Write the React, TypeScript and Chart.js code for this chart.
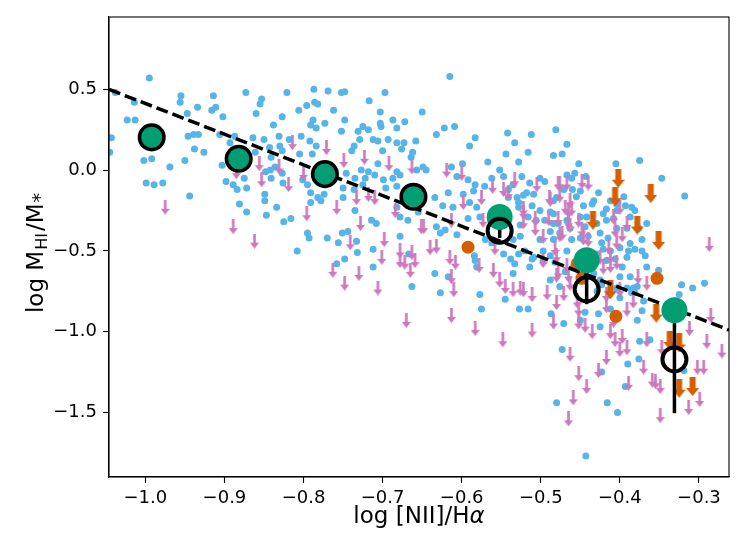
import React, { useEffect, useRef } from 'react';
import Chart from 'chart.js/auto';

// Axis ranges and ticks
const xRange = [-1.046, -0.262];
const yRange = [-1.9, 0.948];
const xTicks = [-1.0, -0.9, -0.8, -0.7, -0.6, -0.5, -0.4, -0.3];
const yTicks = [-1.5, -1.0, -0.5, 0.0, 0.5];

// Detected galaxies (blue)
const blueX = [
  -0.995, -1.038, -1.014, -1.023, -1.013, -1.043, -1.045, -1.002, -0.992, -0.969, -0.999, -0.989, -0.978,
  -0.955, -0.956, -0.947, -0.934, -0.946, -0.939, -0.933, -0.938, -0.926, -0.950, -0.944, -0.914, -0.911,
  -0.916, -0.902, -0.873, -0.853, -0.855, -0.860, -0.821, -0.838, -0.827, -0.806, -0.796, -0.787, -0.786,
  -0.782, -0.788, -0.791, -0.784, -0.887, -0.906, -0.893, -0.864, -0.850, -0.861, -0.843, -0.831, -0.830,
  -0.827, -0.818, -0.803, -0.792, -0.784, -0.805, -0.789, -0.841, -0.836, -0.842, -0.848, -0.827, -0.903,
  -0.898, -0.889, -0.884, -0.875, -0.872, -0.841, -0.826, -0.881, -0.872, -0.849, -0.849, -0.847, -0.834,
  -0.825, -0.816, -0.808, -0.801, -0.795, -0.791, -0.791, -0.795, -0.793, -0.782,
  -0.615, -0.769, -0.752, -0.748, -0.697, -0.717, -0.762, -0.773, -0.748, -0.752, -0.703, -0.650, -0.703,
  -0.702, -0.687, -0.682, -0.672, -0.731, -0.725, -0.718, -0.729, -0.736, -0.739, -0.712, -0.706, -0.693,
  -0.682, -0.673, -0.658, -0.700, -0.676, -0.662, -0.664, -0.632, -0.622, -0.609, -0.583, -0.590, -0.542,
  -0.533, -0.528, -0.544, -0.567, -0.599, -0.613, -0.649, -0.645, -0.657, -0.678, -0.706, -0.710, -0.718,
  -0.727, -0.746, -0.735, -0.722, -0.699, -0.687, -0.682, -0.750, -0.736, -0.725, -0.696, -0.682, -0.750,
  -0.774, -0.778, -0.735, -0.714, -0.708, -0.678, -0.682, -0.668, -0.655, -0.634, -0.624, -0.617, -0.611,
  -0.598, -0.585, -0.590, -0.581, -0.592, -0.577, -0.606, -0.627, -0.632, -0.621, -0.606, -0.592, -0.583,
  -0.571, -0.562, -0.552, -0.547, -0.535, -0.541, -0.530, -0.528, -0.541, -0.770, -0.756, -0.751, -0.744,
  -0.733, -0.732, -0.712, -0.712, -0.748, -0.758, -0.678, -0.667, -0.634, -0.617, -0.663, -0.627, -0.577,
  -0.575, -0.545, -0.584, -0.583, -0.581, -0.570, -0.562, -0.547, -0.538, -0.528, -0.535,
  -0.512, -0.481, -0.467, -0.516, -0.484, -0.473, -0.452, -0.405, -0.375, -0.347, -0.318, -0.524, -0.514,
  -0.501, -0.495, -0.467, -0.457, -0.443, -0.461, -0.480, -0.427, -0.435, -0.446, -0.450, -0.460, -0.471,
  -0.484, -0.509, -0.518, -0.528, -0.511, -0.501, -0.488, -0.516, -0.506, -0.526, -0.535, -0.526, -0.533,
  -0.509, -0.497, -0.484, -0.488, -0.478, -0.467, -0.476, -0.463, -0.461, -0.450, -0.440, -0.425, -0.423,
  -0.415, -0.417, -0.408, -0.417, -0.393, -0.385, -0.404, -0.391, -0.376, -0.372, -0.381, -0.366, -0.389,
  -0.400, -0.412, -0.406, -0.397, -0.400, -0.417, -0.421, -0.429, -0.467, -0.459, -0.469, -0.488, -0.497,
  -0.514, -0.527, -0.516, -0.487, -0.471, -0.473, -0.480, -0.443, -0.444, -0.450, -0.425, -0.423, -0.416,
  -0.403, -0.393, -0.390, -0.376, -0.375, -0.362, -0.378, -0.372, -0.400, -0.385, -0.378, -0.370, -0.412,
  -0.429, -0.427, -0.322, -0.308, -0.293, -0.325, -0.319, -0.351,
  -0.455, -0.442, -0.429, -0.421, -0.412, -0.395, -0.387, -0.484, -0.495, -0.501, -0.433, -0.425, -0.387,
  -0.383,
  -0.522, -0.433, -0.404, -0.381, -0.484, -0.450, -0.444, -0.404, -0.387, -0.372, -0.368, -0.391, -0.366,
  -0.488, -0.482, -0.476, -0.457, -0.511, -0.520, -0.423, -0.404, -0.391, -0.381,
];
const blueY = [
  0.57, 0.48, 0.42, 0.31, 0.31, 0.2, 0.11, 0.06, 0.07, 0.02, -0.08, -0.09, -0.08,
  0.46, 0.42, 0.35, 0.39, 0.21, 0.22, 0.22, 0.13, 0.11, 0.06, -0.16, 0.46, 0.39,
  0.37, 0.33, 0.48, 0.44, 0.41, 0.35, 0.48, 0.28, 0.33, 0.37, 0.4, 0.5, 0.42,
  0.41, 0.31, 0.28, 0.26, 0.21, 0.22, 0.17, 0.2, 0.19, 0.11, 0.14, 0.21, 0.15,
  0.12, 0.19, 0.21, 0.18, 0.15, 0.1, 0.1, 0.08, 0.02, 0.0, -0.01, -0.02, 0.03,
  -0.07, -0.09, -0.12, -0.05, -0.11, -0.05, -0.08, -0.21, -0.26, -0.15, -0.19, -0.28, -0.23,
  -0.32, -0.3, -0.5, -0.06, -0.09, -0.14, -0.2, -0.39, -0.42, -0.17,
  0.58, 0.49, 0.48, 0.485, 0.48, 0.43, 0.37, 0.29, 0.31, 0.24, 0.36, 0.36, 0.29,
  0.27, 0.31, 0.26, 0.3, 0.24, 0.27, 0.25, 0.19, 0.15, 0.12, 0.19, 0.18, 0.19,
  0.17, 0.17, 0.18, 0.12, 0.13, 0.11, 0.08, 0.22, 0.26, 0.27, 0.2, 0.15, 0.23,
  0.17, 0.05, 0.1, 0.05, 0.04, 0.02, 0.02, 0.0, 0.0, -0.03, 0.04, -0.03, -0.01,
  0.0, -0.02, -0.05, -0.05, -0.06, -0.05, -0.01, -0.11, -0.12, -0.09, -0.11, -0.1, -0.17,
  -0.15, -0.19, -0.25, -0.31, -0.33, -0.29, -0.23, -0.31, -0.26, -0.17, -0.22, -0.14, -0.23,
  -0.15, -0.13, -0.2, -0.23, -0.3, -0.29, -0.4, -0.39, -0.35, -0.37, -0.04, -0.06, -0.09,
  -0.1, -0.05, 0.0, -0.04, -0.09, -0.12, -0.17, -0.23, -0.17, -0.42, -0.45, -0.39, -0.38,
  -0.44, -0.51, -0.49, -0.6, -0.55, -0.58, -0.41, -0.52, -0.64, -0.66, -0.72, -0.76, -0.77,
  -0.86, -0.8, -0.53, -0.56, -0.6, -0.43, -0.45, -0.52, -0.55, -0.52, -0.64,
  0.22, 0.25, 0.16, 0.11, 0.09, 0.1, 0.04, 0.04, 0.06, -0.05, -0.16, -0.04, -0.08,
  -0.05, -0.07, -0.03, -0.02, -0.04, -0.05, -0.17, -0.14, -0.21, -0.22, -0.13, -0.12, -0.12,
  -0.19, -0.15, -0.14, -0.2, -0.22, -0.25, -0.26, -0.29, -0.31, -0.34, -0.43, -0.41, -0.58,
  -0.54, -0.5, -0.43, -0.38, -0.33, -0.31, -0.39, -0.36, -0.43, -0.42, -0.41, -0.39, -0.45,
  -0.42, -0.31, -0.3, -0.24, -0.22, -0.23, -0.25, -0.36, -0.36, -0.43, -0.49, -0.33, -0.5,
  -0.48, -0.5, -0.55, -0.6, -0.66, -0.56, -0.49, -0.52, -0.5, -0.6, -0.63, -0.68, -0.56,
  -0.6, -0.86, -0.86, -0.89, -0.95, -1.11, -1.44, -1.77, -0.88, -0.93, -0.97, -1.25, -1.44,
  -1.5, -1.34, -1.2, -1.17, -1.06, -1.05, -0.93, -0.87, -0.79, -0.76, -0.72, -0.81, -0.86,
  -0.75, -0.89, -0.71, -0.73, -0.7, -0.77, -1.24, -0.62,
  -0.165, -0.29, -0.33, -0.27, -0.19, -0.165, -0.29, -0.33, -0.31, -0.43, -0.64, -0.68, -0.66,
  -0.73,
  -0.155, -0.19, -0.21, -0.25, -0.27, -0.29, -0.35, -0.36, -0.455, -0.5, -0.53, -0.54, -0.6,
  -0.53, -0.57, -0.72, -0.59, -0.55, -0.5, -0.71, -0.73, -0.73, -0.76,
];

// Upper limits (pink arrows)
const pinkX = [
  -0.975, -0.889, -0.862, -0.814, -0.856, -0.853, -0.831, -0.819, -0.8, -0.796, -0.885,
  -0.771, -0.749, -0.723, -0.692, -0.663, -0.758, -0.733, -0.718, -0.71, -0.728, -0.684, -0.698, -0.741,
  -0.701, -0.678, -0.678, -0.672, -0.663, -0.659, -0.665, -0.763, -0.73, -0.748, -0.706, -0.651, -0.648,
  -0.64, -0.632, -0.615, -0.608, -0.613, -0.61, -0.619, -0.6, -0.598, -0.613, -0.575, -0.561, -0.547,
  -0.541, -0.533, -0.573, -0.578, -0.56, -0.552, -0.545, -0.535, -0.558,
  -0.67, -0.613, -0.583, -0.548,
  -0.522, -0.522, -0.507, -0.507, -0.505, -0.489, -0.476, -0.467, -0.448, -0.44, -0.469, -0.465, -0.461,
  -0.478, -0.452, -0.465, -0.497, -0.476, -0.446, -0.44, -0.408, -0.406, -0.397, -0.391, -0.4, -0.412,
  -0.404, -0.48, -0.478, -0.465, -0.454, -0.526, -0.522, -0.511, -0.492, -0.48, -0.454, -0.452, -0.484,
  -0.452, -0.444, -0.435, -0.511, -0.417, -0.417, -0.408, -0.412, -0.406, -0.397, -0.391, -0.4, -0.417,
  -0.391, -0.383, -0.366, -0.366, -0.37, -0.359, -0.355, -0.349, -0.389, -0.427, -0.463, -0.452, -0.442,
  -0.459, -0.465, -0.349, -0.347, -0.312, -0.302, -0.294, -0.29, -0.285, -0.287, -0.271, -0.313, -0.299,
  -0.478, -0.488, -0.476, -0.463, -0.522, -0.49, -0.463, -0.473, -0.482, -0.497, -0.467, -0.48, -0.448,
  -0.414, -0.404, -0.412, -0.425, -0.421, -0.377, -0.471, -0.463, -0.4,
];
const pinkY = [
  -0.23, -0.35, -0.44, 0.17, 0.04, -0.06, 0.02, -0.09, -0.02, -0.27, -0.01,
  0.14, 0.06, 0.08, 0.04, 0.02, -0.23, -0.17, -0.15, -0.17, -0.33, -0.25, -0.43, -0.45,
  -0.54, -0.5, -0.56, -0.57, -0.51, -0.56, -0.62, -0.62, -0.64, -0.7, -0.73, -0.35, -0.35,
  -0.48, -0.47, -0.54, -0.57, -0.66, -0.74, 0.0, -0.02, -0.2, -0.31, -0.17, -0.1, -0.12,
  -0.14, -0.06, -0.31, -0.59, -0.62, -0.68, -0.72, -0.74, -0.48,
  -0.93, -0.9, -0.98, -1.05,
  -0.26, -0.32, -0.3, -0.36, -0.09, -0.17, -0.08, -0.08, -0.07, -0.08, -0.23, -0.25, -0.24,
  -0.3, -0.31, -0.32, -0.41, -0.4, -0.42, -0.43, -0.29, -0.37, -0.4, -0.33, -0.23, -0.53,
  -0.57, -0.53, -0.63, -0.65, -0.6, -0.73, -0.74, -0.77, -0.76, -0.82, -0.81, -0.86, -0.94,
  -0.94, -0.96, -1.0, -0.99, -0.77, -0.84, -0.93, -1.0, -1.05, -1.03, -1.1, -1.11, -1.16,
  -0.86, -0.81, -0.7, -1.05, -1.22, -1.3, -1.31, -1.34, -1.32, -1.24, -1.14, -1.26, -1.34,
  -1.41, -1.54, -1.52, -1.1, -0.98, -1.22, -1.22, -1.06, -0.9, -0.46, -1.12, -1.47, -1.42,
  -0.08, -0.18, -0.155, -0.19, -0.24, -0.3, -0.34, -0.39, -0.485, -0.56, -0.59, -0.65, -0.37,
  -0.475, -0.445, -0.59, -0.54, -0.6, -0.66, -0.765, -0.7, -0.74,
];

// Orange points and upper limits
const orangeX = [-0.592, -0.353, -0.405, -0.454, -0.448];
const orangeY = [-0.477, -0.67, -0.905, -0.58, -0.67];
const orangeLimX = [-0.402, -0.406, -0.361, -0.434, -0.378, -0.351, -0.412, -0.354, -0.337, -0.325, -0.325, -0.308];
const orangeLimY = [-0.05, -0.165, -0.145, -0.31, -0.34, -0.435, -0.74, -0.885, -1.054, -1.07, -1.35, -1.34];

// Binned means
const greenEdgeX = [-0.992, -0.882, -0.773, -0.661];
const greenEdgeY = [0.203, 0.07, -0.025, -0.165];
const greenX = [-0.552, -0.442, -0.331];
const greenY = [-0.29, -0.558, -0.868];
const openX = [-0.552, -0.442, -0.331];
const openY = [-0.376, -0.738, -1.172];
const errLo = [-0.42, -0.83, -1.505];
const errHi = [-0.33, -0.63, -0.94];

// Fit line
const fitX = [-1.046, -0.262];
const fitY = [0.5, -0.99];

const FONT = '"DejaVu Sans", "Liberation Sans", sans-serif';

function makeArrow(color: string, w: number, h: number, shaftW: number, headH: number) {
  const c = document.createElement('canvas');
  c.width = w;
  c.height = h;
  const ctx = c.getContext('2d') as CanvasRenderingContext2D;
  ctx.fillStyle = color;
  ctx.fillRect((w - shaftW) / 2, 0, shaftW, h - headH + 0.5);
  ctx.beginPath();
  ctx.moveTo(0, h - headH);
  ctx.lineTo(w, h - headH);
  ctx.lineTo(w / 2, h);
  ctx.closePath();
  ctx.fill();
  return c;
}

function fmt(v: number) {
  const r = Math.round(v * 10) / 10;
  if (r === 0) return '0.0';
  return (r < 0 ? '\u2212' : '') + Math.abs(r).toFixed(1);
}

const pts = (xs: number[], ys: number[]) => xs.map((x, i) => ({ x, y: ys[i] }));

const framePlugin = {
  id: 'frameAndTitles',
  afterDraw(chart: any) {
    const ctx: CanvasRenderingContext2D = chart.ctx;
    const a = chart.chartArea;
    ctx.save();
    ctx.strokeStyle = '#000';
    ctx.lineWidth = 1.1;
    ctx.strokeRect(a.left, a.top, a.right - a.left, a.bottom - a.top);

    ctx.fillStyle = '#000';
    ctx.textBaseline = 'alphabetic';
    ctx.textAlign = 'left';
    // x title
    const big = `23px ${FONT}`;
    const bigIt = `italic 23px ${FONT}`;
    ctx.font = big;
    const t1 = 'log [NII]/H';
    const w1 = ctx.measureText(t1).width;
    ctx.font = bigIt;
    const w2 = ctx.measureText('\u03b1').width;
    const cx = (a.left + a.right) / 2;
    const sx = cx - (w1 + w2) / 2;
    ctx.font = big;
    ctx.fillText(t1, sx, 523);
    ctx.font = bigIt;
    ctx.fillText('\u03b1', sx + w1, 523);

    // y title (rotated)
    const small = `16px ${FONT}`;
    const star = `19px ${FONT}`;
    const parts: [string, string, number, number][] = [
      ['log M', big, 0, 1],
      ['HI', small, 4, 2],
      ['/M', big, 0, 1],
      ['*', star, 3, 0],
    ];
    let total = 0;
    const widths = parts.map(([t, f, , gap]) => {
      ctx.font = f;
      const w = ctx.measureText(t).width;
      total += w + gap;
      return w;
    });
    ctx.translate(43, (a.top + a.bottom) / 2 + 6);
    ctx.rotate(-Math.PI / 2);
    let px = -total / 2;
    parts.forEach(([t, f, dy, gap], i) => {
      ctx.font = f;
      ctx.fillText(t, px, dy);
      px += widths[i] + gap;
    });
    ctx.restore();
  },
};

export default function App() {
  const ref = useRef<HTMLCanvasElement | null>(null);
  useEffect(() => {
    if (!ref.current) return;
    const pinkArrow = makeArrow('#CC78BC', 9, 15, 2.6, 6);
    const orangeArrow = makeArrow('#D55E00', 13, 19, 6, 8);

    const errSets = openX.map((x, i) => ({
      type: 'scatter' as const,
      data: [
        { x, y: errLo[i] },
        { x, y: errHi[i] },
      ],
      showLine: true,
      borderColor: '#000',
      borderWidth: 3.5,
      pointRadius: 0,
      order: 3,
    }));

    const chart = new Chart(ref.current, {
      type: 'scatter',
      data: {
        datasets: [
          {
            data: pts(blueX, blueY),
            backgroundColor: '#56B4E9',
            borderWidth: 0,
            pointRadius: 3.5,
            order: 10,
          },
          {
            data: pts(pinkX, pinkY),
            pointStyle: pinkArrow as any,
            backgroundColor: '#CC78BC',
            order: 9,
          },
          {
            data: pts(orangeX, orangeY),
            backgroundColor: '#D55E00',
            borderWidth: 0,
            pointRadius: 6.5,
            order: 8,
          },
          {
            data: pts(orangeLimX, orangeLimY),
            pointStyle: orangeArrow as any,
            order: 8,
          },
          {
            data: pts(fitX, fitY),
            showLine: true,
            borderColor: '#000',
            borderWidth: 3.5,
            borderDash: [12, 5],
            pointRadius: 0,
            order: 6,
          },
          ...errSets,
          {
            data: pts(greenEdgeX, greenEdgeY),
            backgroundColor: '#029E73',
            borderColor: '#000',
            borderWidth: 3.5,
            pointRadius: 12.3,
            order: 2,
          },
          {
            data: pts(greenX, greenY),
            backgroundColor: '#029E73',
            borderWidth: 0,
            pointRadius: 13,
            order: 2,
          },
          {
            data: pts(openX, openY),
            backgroundColor: 'rgba(0,0,0,0)',
            borderColor: '#000',
            borderWidth: 4,
            pointRadius: 12,
            order: 1,
          },
        ] as any,
      },
      options: {
        animation: false,
        responsive: false,
        events: [],
        layout: { padding: { top: 17, right: 18, left: 0, bottom: 0 } },
        plugins: { legend: { display: false }, tooltip: { enabled: false } },
        scales: {
          x: {
            type: 'linear',
            min: xRange[0],
            max: xRange[1],
            afterBuildTicks: (s: any) => {
              s.ticks = xTicks.map((v) => ({ value: v }));
            },
            afterFit: (s: any) => {
              s.height = 83;
            },
            ticks: {
              callback: (v: any) => fmt(Number(v)),
              font: { family: FONT, size: 18 },
              color: '#000',
              padding: 5,
              maxRotation: 0,
              autoSkip: false,
            },
            grid: {
              display: true,
              drawOnChartArea: false,
              drawTicks: true,
              tickLength: 6,
              tickColor: '#000',
              tickWidth: 1.1,
            },
            border: { display: true, color: '#000', width: 1.1 },
          },
          y: {
            type: 'linear',
            min: yRange[0],
            max: yRange[1],
            afterBuildTicks: (s: any) => {
              s.ticks = yTicks.map((v) => ({ value: v }));
            },
            afterFit: (s: any) => {
              s.width = 109;
            },
            ticks: {
              callback: (v: any) => fmt(Number(v)),
              font: { family: FONT, size: 18 },
              color: '#000',
              padding: 6,
              autoSkip: false,
            },
            grid: {
              display: true,
              drawOnChartArea: false,
              drawTicks: true,
              tickLength: 6,
              tickColor: '#000',
              tickWidth: 1.1,
            },
            border: { display: true, color: '#000', width: 1.1 },
          },
        },
      } as any,
      plugins: [framePlugin],
    });
    return () => chart.destroy();
  }, []);

  return (
    <div style={{ position: 'absolute', left: 0, top: 0, width: 747, height: 560, background: '#fff' }}>
      <canvas ref={ref} width={747} height={560} style={{ display: 'block' }} />
    </div>
  );
}
